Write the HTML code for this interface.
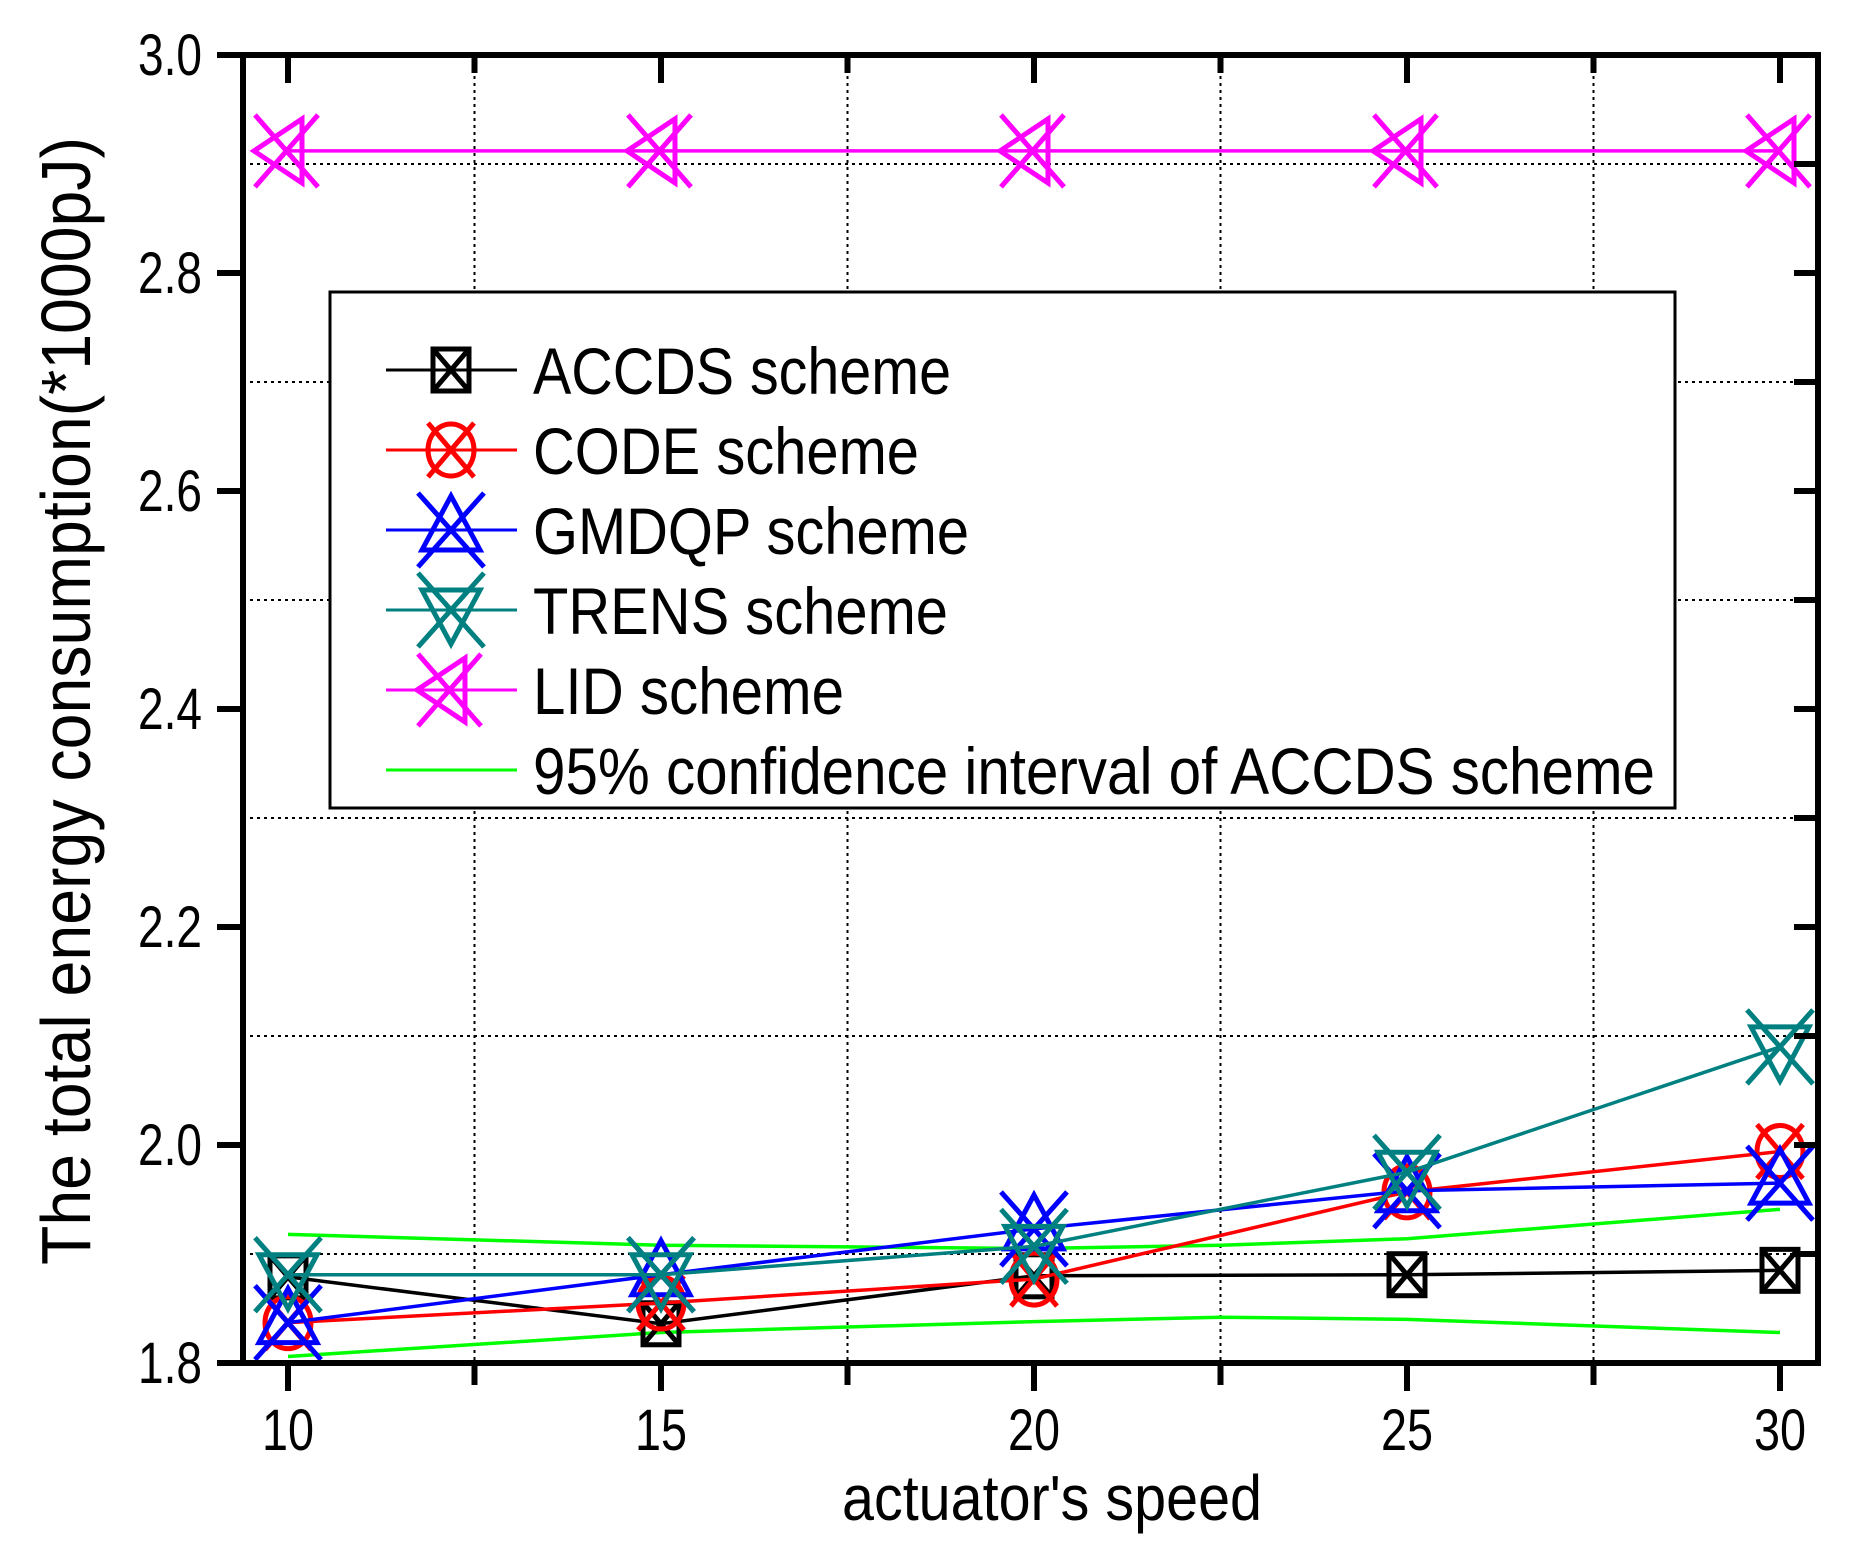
<!DOCTYPE html>
<html><head><meta charset="utf-8"><style>
html,body{margin:0;padding:0;background:#fff;}
svg{display:block;font-family:"Liberation Sans",sans-serif;}
</style></head><body>
<svg id="chart" width="1866" height="1566" viewBox="0 0 1866 1566" xmlns="http://www.w3.org/2000/svg">
<rect x="0" y="0" width="1866" height="1566" fill="#fff"/>
<g id="grid"></g>
<g id="series"></g>
<g id="axes"></g>
<g id="legend"></g>
<text x="1052" y="1520" font-size="64" text-anchor="middle" textLength="420" lengthAdjust="spacingAndGlyphs">actuator's speed</text>
<text transform="translate(90,701) rotate(-90)" font-size="70" text-anchor="middle" textLength="1128" lengthAdjust="spacingAndGlyphs">The total energy consumption(*1000pJ)</text>
</svg>
<script>
const xCats = [10, 15, 20, 25, 30];
const accds = [1.879, 1.836, 1.880, 1.881, 1.885];
const code = [1.837, 1.855, 1.877, 1.957, 1.994];
const gmdqp = [1.837, 1.881, 1.923, 1.958, 1.965];
const trens = [1.881, 1.881, 1.907, 1.975, 2.090];
const lid = [2.912, 2.912, 2.912, 2.912, 2.912];
const ciX = [10, 15, 20, 22.5, 25, 30];
const ciUpper = [1.918, 1.908, 1.905, 1.908, 1.914, 1.941];
const ciLower = [1.806, 1.828, 1.838, 1.842, 1.840, 1.828];
const yTicks = [1.8, 2.0, 2.2, 2.4, 2.6, 2.8, 3.0];
const yTickLabels = ["1.8", "2.0", "2.2", "2.4", "2.6", "2.8", "3.0"];
const yGrid = [1.9, 2.1, 2.3, 2.5, 2.7, 2.9];
const xGrid = [12.5, 17.5, 22.5, 27.5];
const xTickLabels = ["10", "15", "20", "25", "30"];

const L = 243, R = 1818, T = 55, B = 1363;
const X = v => 288 + (v - 10) * (1780 - 288) / 20;
const Y = v => B - (v - 1.8) * (B - T) / 1.2;
const NS = "http://www.w3.org/2000/svg";
function mk(parent, tag, attrs) {
  const e = document.createElementNS(NS, tag);
  for (const k in attrs) e.setAttribute(k, attrs[k]);
  parent.appendChild(e);
  return e;
}
const grid = document.getElementById('grid');
const axes = document.getElementById('axes');
const series = document.getElementById('series');
const legend = document.getElementById('legend');

yGrid.forEach(v => {
  const l = mk(grid, 'line', {x1: L, x2: R, y1: Y(v), y2: Y(v), stroke: '#000', 'stroke-width': 2, 'stroke-dasharray': '3,4'});
  
  
  const t = mk(axes, 'line', {x1: R - 24, x2: R, y1: Y(v), y2: Y(v), stroke: '#000', 'stroke-width': 6});
  
  
});
xGrid.forEach(v => {
  const l = mk(grid, 'line', {x1: X(v), x2: X(v), y1: T, y2: B, stroke: '#000', 'stroke-width': 2, 'stroke-dasharray': '3,4'});
  
  
  const t = mk(axes, 'line', {x1: X(v), x2: X(v), y1: B, y2: B + 22, stroke: '#000', 'stroke-width': 6});
  
  
  const t2 = mk(axes, 'line', {x1: X(v), x2: X(v), y1: T, y2: T + 18, stroke: '#000', 'stroke-width': 6});
  
  
});
const frame = mk(axes, 'rect', {x: L, y: T, width: R - L, height: B - T, fill: 'none', stroke: '#000', 'stroke-width': 6});



yTicks.forEach((v, i) => {
  const t = mk(axes, 'line', {x1: L - 26, x2: L, y1: Y(v), y2: Y(v), stroke: '#000', 'stroke-width': 6});
  
  
  const t2 = mk(axes, 'line', {x1: R - 24, x2: R, y1: Y(v), y2: Y(v), stroke: '#000', 'stroke-width': 6});
  
  
  const lb = mk(axes, 'text', {x: 202, y: Y(v) + 20, 'font-size': 58, 'text-anchor': 'end', textLength: 64, lengthAdjust: 'spacingAndGlyphs'});
  lb.textContent = yTickLabels[i];
  
  
});
xCats.forEach((v, i) => {
  const t = mk(axes, 'line', {x1: X(v), x2: X(v), y1: B, y2: B + 28, stroke: '#000', 'stroke-width': 6});
  
  
  const t2 = mk(axes, 'line', {x1: X(v), x2: X(v), y1: T, y2: T + 28, stroke: '#000', 'stroke-width': 6});
  
  
  const lb = mk(axes, 'text', {x: X(v), y: 1450, 'font-size': 58, 'text-anchor': 'middle', textLength: 52, lengthAdjust: 'spacingAndGlyphs'});
  lb.textContent = xTickLabels[i];
  
  
});

function marker(g, type, cx, cy, color) {
  const sw = 5;
  const p = {fill: 'none', stroke: color, 'stroke-width': sw};
  if (type === 'square') {
    mk(g, 'rect', Object.assign({x: cx - 18, y: cy - 21, width: 36, height: 42}, p));
    mk(g, 'path', Object.assign({d: `M${cx-18},${cy-21}L${cx+18},${cy+21}M${cx+18},${cy-21}L${cx-18},${cy+21}`}, p));
  } else if (type === 'circle') {
    mk(g, 'ellipse', Object.assign({cx: cx, cy: cy, rx: 23, ry: 26}, p));
    mk(g, 'path', Object.assign({d: `M${cx-23},${cy-27}L${cx+23},${cy+27}M${cx+23},${cy-27}L${cx-23},${cy+27}`}, p));
  } else if (type === 'up') {
    mk(g, 'path', Object.assign({d: `M${cx},${cy-34}L${cx+29},${cy+20}L${cx-29},${cy+20}Z`}, p));
    mk(g, 'path', Object.assign({d: `M${cx-33},${cy-37}L${cx+33},${cy+37}M${cx+33},${cy-37}L${cx-33},${cy+37}`}, p));
  } else if (type === 'down') {
    mk(g, 'path', Object.assign({d: `M${cx},${cy+34}L${cx+29},${cy-20}L${cx-29},${cy-20}Z`}, p));
    mk(g, 'path', Object.assign({d: `M${cx-33},${cy-37}L${cx+33},${cy+37}M${cx+33},${cy-37}L${cx-33},${cy+37}`}, p));
  } else if (type === 'left') {
    mk(g, 'path', Object.assign({d: `M${cx-34},${cy}L${cx+14},${cy-32}L${cx+14},${cy+32}Z`}, p));
    mk(g, 'path', Object.assign({d: `M${cx-33},${cy-36}L${cx+30},${cy+36}M${cx+30},${cy-36}L${cx-33},${cy+36}`}, p));
  }
}

[[ciUpper, 'ci-upper-line'], [ciLower, 'ci-lower-line']].forEach(([arr, nm]) => {
  const pl = mk(series, 'polyline', {points: ciX.map((x, i) => X(x) + ',' + Y(arr[i])).join(' '), fill: 'none', stroke: '#00ff00', 'stroke-width': 3.5});
  
  
});

const defs = [
  [accds, '#000000', 'square', 'accds'],
  [code, '#ff0000', 'circle', 'code'],
  [gmdqp, '#0000ff', 'up', 'gmdqp'],
  [trens, '#008080', 'down', 'trens'],
  [lid, '#ff00ff', 'left', 'lid']
];
defs.forEach(([arr, col, type, nm]) => {
  const g = mk(series, 'g', {});
  
  
  const pl = mk(g, 'polyline', {points: xCats.map((x, i) => X(x) + ',' + Y(arr[i])).join(' '), fill: 'none', stroke: col, 'stroke-width': 3.5});
  
  
  xCats.forEach((x, i) => {
    const mg = mk(g, 'g', {});
    
    
    marker(mg, type, X(x), Y(arr[i]), col);
  });
});

const box = mk(legend, 'rect', {x: 330, y: 292, width: 1345, height: 516, fill: '#fff', stroke: '#000', 'stroke-width': 3});


const legendLabels = ['ACCDS scheme', 'CODE scheme', 'GMDQP scheme', 'TRENS scheme', 'LID scheme', '95% confidence interval of ACCDS scheme'];
const legendWidths = [418, 386, 436, 415, 311, 1122];
const legendColors = ['#000000', '#ff0000', '#0000ff', '#008080', '#ff00ff', '#00ff00'];
const legendTypes = ['square', 'circle', 'up', 'down', 'left', null];
legendLabels.forEach((lbl, i) => {
  const y = 370 + i * 80;
  const g = mk(legend, 'g', {});
  
  
  mk(g, 'line', {x1: 386, x2: 517, y1: y, y2: y, stroke: legendColors[i], 'stroke-width': 3});
  if (legendTypes[i]) marker(g, legendTypes[i], 451, y, legendColors[i]);
  const t = mk(g, 'text', {x: 533, y: y + 24, 'font-size': 66, textLength: legendWidths[i], lengthAdjust: 'spacingAndGlyphs'});
  t.textContent = lbl;
  
  
});
</script>
</body></html>
